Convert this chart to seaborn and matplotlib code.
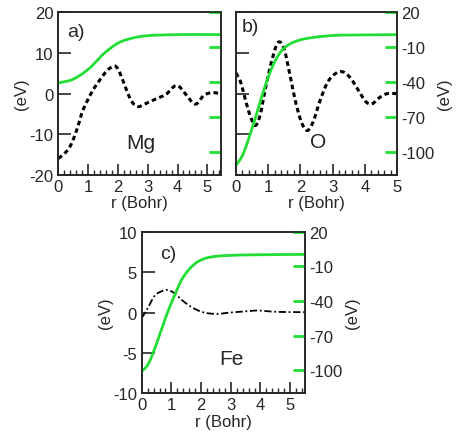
import numpy as np
import pandas as pd
import seaborn as sns
import matplotlib
matplotlib.use("Agg")
import matplotlib.pyplot as plt
from matplotlib.ticker import MultipleLocator

# ---------------- data ----------------
# a) Mg
mg_r_dash = [0.0, 0.22, 0.39, 0.56, 0.67, 0.78, 0.89, 1.0, 1.11, 1.28, 1.44, 1.61, 1.78, 1.89,
             2.0, 2.11, 2.28, 2.45, 2.67, 2.89, 3.22, 3.61, 4.0, 4.28, 4.61, 4.89, 5.11, 5.45]
mg_v_dash = [-16.0, -14.7, -13.1, -10.2, -7.8, -5.0, -3.0, -1.4, 0.2, 2.2, 3.8, 5.5, 6.5, 6.85,
             6.1, 4.3, 1.0, -1.8, -3.2, -2.6, -1.5, -0.2, 2.0, -0.2, -2.6, -0.4, 0.2, 0.0]
mg_r_green = [0.0, 0.47, 1.02, 1.58, 2.0, 2.47, 3.0, 3.5, 4.0, 5.45]
mg_v_green = [-40.8, -37.9, -28.7, -14.3, -6.5, -2.2, 0.0, 0.6, 0.9, 0.9]

# b) O
o_r_dash = [0.0, 0.15, 0.3, 0.46, 0.59, 0.73, 0.91, 1.12, 1.32, 1.5, 1.68, 1.88, 2.08, 2.21,
            2.39, 2.59, 2.84, 3.1, 3.3, 3.55, 3.81, 4.06, 4.21, 4.42, 4.62, 5.0]
o_v_dash = [5.1, 2.7, -1.8, -5.9, -7.9, -5.9, 1.1, 8.4, 12.7, 10.9, 4.3, -3.0, -7.9, -9.1,
            -7.1, -2.2, 2.7, 5.0, 5.4, 3.9, 0.7, -2.2, -2.6, -1.2, -0.2, 0.0]
o_r_green = [0.0, 0.2, 0.41, 0.61, 0.81, 1.02, 1.22, 1.42, 1.68, 1.93, 2.44, 2.94, 3.96, 5.0]
o_v_green = [-112, -103.5, -87.7, -70.4, -51.7, -34.4, -21.5, -12.9, -7.1, -4.2, -1.4, 0.0, 0.6, 0.9]

# c) Fe
fe_r_dash = [0.0, 0.2, 0.42, 0.65, 0.85, 1.1, 1.32, 1.65, 1.99, 2.44, 2.99, 3.5, 3.89, 4.34, 5.5]
fe_v_dash = [-0.7, 0.5, 2.0, 2.6, 2.8, 2.4, 1.65, 0.74, 0.12, -0.17, 0.0, 0.15, 0.25, 0.12, 0.04]
fe_r_green = [0.0, 0.2, 0.42, 0.65, 0.87, 1.1, 1.32, 1.54, 1.82, 2.1, 2.44, 2.88, 3.78, 5.5]
fe_v_green = [-101, -95.5, -82.6, -65.6, -49.9, -35.6, -22.8, -14.3, -7.2, -3.4, -1.5, -0.6, 0.0, 0.3]

right_ticks = [20, -10, -40, -70, -100]

sns.set_style("ticks")
plt.rcParams['font.family'] = ['Liberation Sans', 'DejaVu Sans']
plt.rcParams['font.size'] = 12
plt.rcParams['axes.unicode_minus'] = False

green = '#22dd33'

fig = plt.figure(figsize=(4.61, 4.39), dpi=100)
ax_a = fig.add_axes([0.1265, 0.5998, 0.3523, 0.3695])
ax_b = fig.add_axes([0.5119, 0.5998, 0.3492, 0.3695])
ax_c = fig.add_axes([0.3074, 0.1018, 0.3542, 0.3681])


def smooth(r, v, n=300):
    # cubic hermite through the read points, only to draw a smooth curve
    r = np.asarray(r, float)
    v = np.asarray(v, float)
    x = np.linspace(r[0], r[-1], n)
    d = np.gradient(v, r)
    idx = np.clip(np.searchsorted(r, x) - 1, 0, len(r) - 2)
    h = r[idx + 1] - r[idx]
    t = (x - r[idx]) / h
    h00 = 2 * t**3 - 3 * t**2 + 1
    h10 = t**3 - 2 * t**2 + t
    h01 = -2 * t**3 + 3 * t**2
    h11 = t**3 - t**2
    y = h00 * v[idx] + h10 * h * d[idx] + h01 * v[idx + 1] + h11 * h * d[idx + 1]
    return pd.DataFrame({'r': x, 'v': y})


def style_axes(ax, xmax, ylim, yticks, left_labels=True):
    ax.set_xlim(0, xmax)
    ax.set_ylim(*ylim)
    ax.set_yticks(yticks)
    ax.xaxis.set_major_locator(MultipleLocator(1))
    ax.xaxis.set_minor_locator(MultipleLocator(0.2))
    ax.tick_params(axis='x', which='major', direction='in', length=8, width=1.2, labelsize=12, pad=3)
    ax.tick_params(axis='x', which='minor', direction='in', length=3.5, width=1)
    ax.tick_params(axis='y', which='major', direction='in', length=9, width=1.2, labelsize=12,
                   labelleft=left_labels, left=True, right=False)
    for s in ax.spines.values():
        s.set_linewidth(1.2)
        s.set_visible(True)


def right_axis(ax, labels=True):
    ax2 = ax.twinx()
    ax2.set_ylim(-120, 20)
    ax2.set_yticks(right_ticks)
    ax2.tick_params(axis='y', direction='in', length=9, width=2, color=green,
                    labelright=labels, labelsize=12, pad=3)
    for s in ax2.spines.values():
        s.set_linewidth(1.2)
    return ax2


# ---- a) Mg
style_axes(ax_a, 5.45, (-20, 20), [-20, -10, 0, 10, 20])
sns.lineplot(data=smooth(mg_r_dash, mg_v_dash), x='r', y='v', ax=ax_a, color='black',
             lw=2.2, linestyle=(0, (1.5, 1.1)))
a2 = right_axis(ax_a, labels=False)
sns.lineplot(data=smooth(mg_r_green, mg_v_green), x='r', y='v', ax=a2, color=green, lw=2)
a2.set_ylabel('')
ax_a.set_ylabel('(eV)', fontsize=12, labelpad=0)
ax_a.set_xlabel('r (Bohr)', fontsize=12, labelpad=1)
ax_a.text(0.054, 0.935, 'a)', transform=ax_a.transAxes, fontsize=14, va='top', ha='left')
ax_a.text(0.51, 0.2, 'Mg', transform=ax_a.transAxes, fontsize=15, va='center', ha='center')

# ---- b) O
style_axes(ax_b, 5.0, (-20, 20), [-20, -10, 0, 10, 20], left_labels=False)
sns.lineplot(data=smooth(o_r_dash, o_v_dash), x='r', y='v', ax=ax_b, color='black',
             lw=2.2, linestyle=(0, (1.5, 1.1)))
b2 = right_axis(ax_b)
sns.lineplot(data=smooth(o_r_green, o_v_green), x='r', y='v', ax=b2, color=green, lw=2)
ax_b.set_ylabel('')
ax_b.set_xlabel('r (Bohr)', fontsize=12, labelpad=1)
b2.set_ylabel('(eV)', fontsize=12, labelpad=2, rotation=90)
ax_b.text(0.035, 0.965, 'b)', transform=ax_b.transAxes, fontsize=14, va='top', ha='left')
ax_b.text(0.512, 0.205, 'O', transform=ax_b.transAxes, fontsize=15, va='center', ha='center')

# ---- c) Fe
style_axes(ax_c, 5.5, (-10, 10), [-10, -5, 0, 5, 10])
sns.lineplot(data=smooth(fe_r_dash, fe_v_dash), x='r', y='v', ax=ax_c, color='black',
             lw=1.3, linestyle=(0, (4, 1.5, 1, 1.5)))
c2 = right_axis(ax_c)
sns.lineplot(data=smooth(fe_r_green, fe_v_green), x='r', y='v', ax=c2, color=green, lw=2)
ax_c.set_ylabel('(eV)', fontsize=12, labelpad=0)
ax_c.set_xlabel('r (Bohr)', fontsize=12, labelpad=1)
c2.set_ylabel('(eV)', fontsize=12, labelpad=2, rotation=90)
ax_c.text(0.112, 0.92, 'c)', transform=ax_c.transAxes, fontsize=14, va='top', ha='left')
ax_c.text(0.551, 0.218, 'Fe', transform=ax_c.transAxes, fontsize=15, va='center', ha='center')

fig.savefig('out.png', dpi=100)
